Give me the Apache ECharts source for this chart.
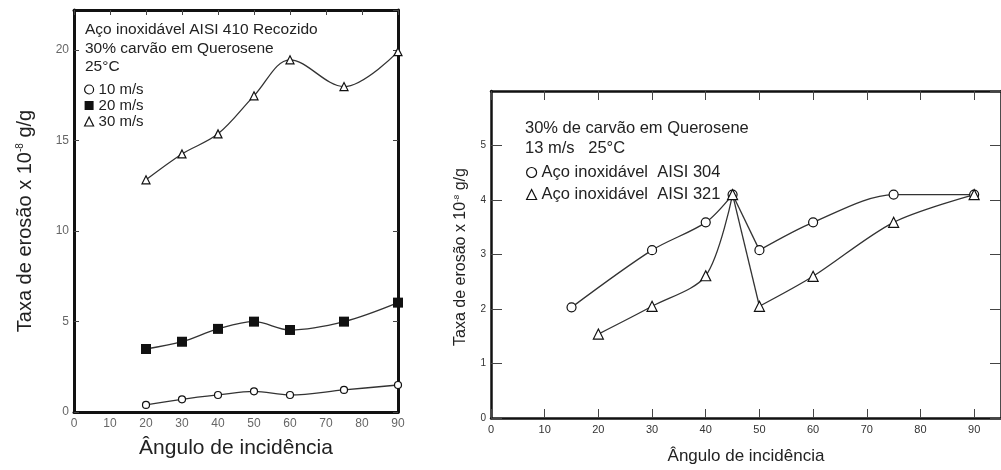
<!DOCTYPE html>
<html>
<head>
<meta charset="utf-8">
<script src="https://cdn.jsdelivr.net/npm/echarts@6/dist/echarts.min.js"></script>
<style>
  html, body { margin: 0; padding: 0; background: #fff; }
  #main { width: 1001px; height: 470px; }
</style>
</head>
<body>
<div id="main"></div>
<script>
var angulosEsq = [20, 30, 40, 50, 60, 75, 90];
var taxa10 = [0.39, 0.70, 0.94, 1.14, 0.94, 1.22, 1.49];
var taxa20 = [3.48, 3.88, 4.59, 4.99, 4.53, 4.99, 6.04];
var taxa30 = [12.82, 14.25, 15.36, 17.46, 19.45, 17.97, 19.9];

// dados do grafico da direita (13 m/s)
var angulos304 = [15, 30, 40, 45, 50, 60, 75, 90];
var taxa304 = [2.03, 3.08, 3.59, 4.1, 3.08, 3.59, 4.1, 4.1];
var angulos321 = [20, 30, 40, 45, 50, 60, 75, 90];
var taxa321 = [1.54, 2.05, 2.61, 4.1, 2.05, 2.6, 3.59, 4.1];

var nomesEsq = ['10 m/s', '20 m/s', '30 m/s'];
var nomesDir = ['Aço inoxidável  AISI 304', 'Aço inoxidável  AISI 321'];

var fonte = 'Liberation Sans, Arial, sans-serif';

function pares(xs, ys, de, ate) {
    var out = [];
    for (var i = de; i < ate; i++) out.push([xs[i], ys[i]]);
    return out;
}

var linha = { color: '#333', width: 1.3 };
var oco = { color: '#fff', borderColor: '#111', borderWidth: 1.2 };

function eixoX(grid, pos, mostra, max, larg, tick) {
    return {
        type: 'value', gridIndex: grid, position: pos, min: 0, max: max, interval: 10,
        axisLine: { show: true, onZero: false, lineStyle: { color: '#111', width: larg } },
        axisTick: { show: tick > 0, inside: true, length: tick, lineStyle: { color: '#444', width: 1 } },
        axisLabel: { show: mostra, showMaxLabel: max % 10 === 0, margin: 6, fontFamily: fonte,
            fontSize: grid === 0 ? 12 : 11, color: grid === 0 ? '#666' : '#333' },
        splitLine: { show: false }
    };
}

function eixoY(grid, pos, mostra, max, intervalo, larg, tick) {
    return {
        type: 'value', gridIndex: grid, position: pos, min: 0, max: max, interval: intervalo,
        axisLine: { show: true, onZero: false, lineStyle: { color: '#111', width: larg } },
        axisTick: { show: true, inside: true, length: tick, lineStyle: { color: '#444', width: 1 } },
        axisLabel: { show: mostra, showMaxLabel: false, margin: 5, fontFamily: fonte,
            fontSize: grid === 0 ? 12 : 10, color: grid === 0 ? '#666' : '#333' },
        splitLine: { show: false }
    };
}

var chart = echarts.init(document.getElementById('main'));

var xEsq = eixoX(0, 'bottom', true, 90, 3, 0);
xEsq.name = 'Ângulo de incidência';
xEsq.nameLocation = 'middle';
xEsq.nameGap = 26;
xEsq.nameTextStyle = { fontFamily: fonte, fontSize: 21, color: '#222' };

var xDir = eixoX(1, 'bottom', true, 95, 2.5, 9);
xDir.name = 'Ângulo de incidência';
xDir.nameLocation = 'middle';
xDir.nameGap = 30;
xDir.nameTextStyle = { fontFamily: fonte, fontSize: 17, color: '#222' };

var serieDir = [];
// cada curva da direita tem um bico em 45 e 50, por isso 3 trechos
[[angulos304, taxa304, 0, 'circle', 9], [angulos321, taxa321, 1, 'triangle', 10]].forEach(function (c) {
    var nome = nomesDir[c[2]];
    serieDir.push({ name: nome, type: 'line', xAxisIndex: 2, yAxisIndex: 2, smooth: 0.3,
        data: pares(c[0], c[1], 0, 4), symbol: c[3], symbolSize: c[4], lineStyle: linha, itemStyle: oco });
    serieDir.push({ name: nome, type: 'line', xAxisIndex: 2, yAxisIndex: 2, smooth: false,
        data: pares(c[0], c[1], 3, 5), symbol: 'none', lineStyle: linha, itemStyle: oco });
    serieDir.push({ name: nome, type: 'line', xAxisIndex: 2, yAxisIndex: 2, smooth: 0.3,
        data: pares(c[0], c[1], 4, 8), symbol: c[3], symbolSize: c[4], lineStyle: linha, itemStyle: oco });
});

chart.setOption({
    animation: false,
    backgroundColor: '#fff',
    grid: [
        { left: 74, top: 10, width: 324, height: 402 },
        { left: 491, top: 91, width: 513, height: 327 }
    ],
    xAxis: [
        xEsq,
        eixoX(0, 'top', false, 90, 3, 5),
        xDir,
        eixoX(1, 'top', false, 95, 2.5, 9)
    ],
    yAxis: [
        eixoY(0, 'left', true, 22.2, 5, 3, 5),
        eixoY(0, 'right', false, 22.2, 5, 3, 5),
        eixoY(1, 'left', true, 6, 1, 2.5, 11),
        eixoY(1, 'right', false, 6, 1, 2.5, 11)
    ],
    legend: [
        {
            orient: 'vertical', left: 79, top: 77, itemWidth: 9, itemHeight: 9, itemGap: 1,
            selectedMode: false, textStyle: { fontFamily: fonte, fontSize: 15, color: '#222' },
            data: [
                { name: nomesEsq[0], icon: 'circle', itemStyle: { color: '#fff', borderColor: '#111', borderWidth: 1.2 } },
                { name: nomesEsq[1], icon: 'rect', itemStyle: { color: '#111', borderWidth: 0 } },
                { name: nomesEsq[2], icon: 'triangle', itemStyle: { color: '#fff', borderColor: '#111', borderWidth: 1.2 } }
            ]
        },
        {
            orient: 'vertical', left: 521, top: 159, itemWidth: 10, itemHeight: 10, itemGap: 5,
            selectedMode: false, textStyle: { fontFamily: fonte, fontSize: 16.5, color: '#222' },
            data: [
                { name: nomesDir[0], icon: 'circle', itemStyle: { color: '#fff', borderColor: '#111', borderWidth: 1.2 } },
                { name: nomesDir[1], icon: 'triangle', itemStyle: { color: '#fff', borderColor: '#111', borderWidth: 1.2 } }
            ]
        }
    ],
    graphic: [
        { type: 'text', x: 85, y: 30, style: { text: 'Aço inoxidável AISI 410 Recozido', font: '15.5px ' + fonte, fill: '#222', verticalAlign: 'middle' } },
        { type: 'text', x: 85, y: 49, style: { text: '30% carvão em Querosene', font: '15.5px ' + fonte, fill: '#222', verticalAlign: 'middle' } },
        { type: 'text', x: 85, y: 67, style: { text: '25°C', font: '15.5px ' + fonte, fill: '#222', verticalAlign: 'middle' } },
        { type: 'text', x: 525, y: 128, style: { text: '30% de carvão em Querosene', font: '16.5px ' + fonte, fill: '#222', verticalAlign: 'middle' } },
        { type: 'text', x: 525, y: 148, style: { text: '13 m/s   25°C', font: '16.5px ' + fonte, fill: '#222', verticalAlign: 'middle' } },
        {
            type: 'text', x: 25, y: 221, rotation: Math.PI / 2,
            style: {
                text: '{a|Taxa de erosão x 10}{s|-8}{a| g/g}', align: 'center', verticalAlign: 'middle',
                rich: { a: { fontFamily: fonte, fontSize: 20, fill: '#222' }, s: { fontFamily: fonte, fontSize: 10, fill: '#222', verticalAlign: 'top' } }
            }
        },
        {
            type: 'text', x: 461, y: 257, rotation: Math.PI / 2,
            style: {
                text: '{a|Taxa de erosão x 10}{s|-8}{a| g/g}', align: 'center', verticalAlign: 'middle',
                rich: { a: { fontFamily: fonte, fontSize: 16, fill: '#222' }, s: { fontFamily: fonte, fontSize: 8, fill: '#222', verticalAlign: 'top' } }
            }
        }
    ],
    series: [
        { name: nomesEsq[0], type: 'line', xAxisIndex: 0, yAxisIndex: 0, smooth: 0.35,
          data: pares(angulosEsq, taxa10, 0, angulosEsq.length), symbol: 'circle', symbolSize: 7, lineStyle: linha, itemStyle: oco },
        { name: nomesEsq[1], type: 'line', xAxisIndex: 0, yAxisIndex: 0, smooth: 0.35,
          data: pares(angulosEsq, taxa20, 0, angulosEsq.length), symbol: 'rect', symbolSize: 10, lineStyle: linha, itemStyle: { color: '#111' } },
        { name: nomesEsq[2], type: 'line', xAxisIndex: 0, yAxisIndex: 0, smooth: 0.35,
          data: pares(angulosEsq, taxa30, 0, angulosEsq.length), symbol: 'triangle', symbolSize: 8, lineStyle: linha, itemStyle: oco }
    ].concat(serieDir)
});
</script>
</body>
</html>
